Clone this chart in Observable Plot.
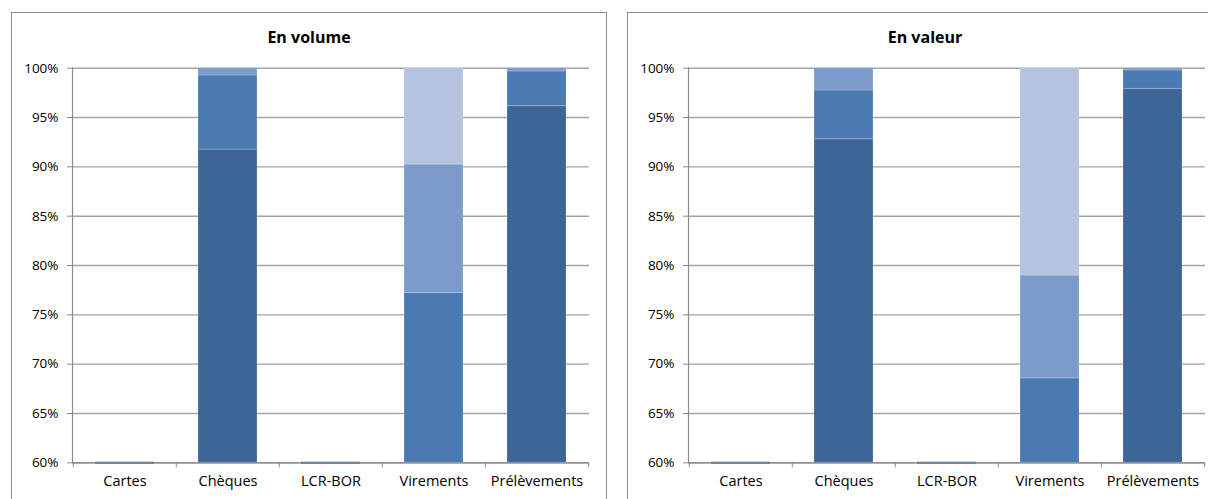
<!DOCTYPE html>
<html lang="fr">
<head>
<meta charset="utf-8">
<script src="https://cdn.jsdelivr.net/npm/d3@7"></script>
<script src="https://cdn.jsdelivr.net/npm/@observablehq/plot@0.6"></script>
<style>
  html, body { margin: 0; padding: 0; background: #fff; width: 1208px; height: 499px; overflow: hidden; }
  .panel { position: absolute; top: 12px; width: 594px; height: 520px; border: 1px solid #8e8e8e; background: #fff; }
  .panel h2 { position: absolute; left: 0; right: 0; top: 13px; margin: 0; text-align: center;
              font: bold 16px/22px "Open Sans", sans-serif; color: #000; }
  .panel .chart { position: absolute; left: 0; top: 37px; }
</style>
</head>
<body>
<div class="panel" id="volume" style="left:11px"><h2>En volume</h2><div class="chart"></div></div>
<div class="panel" id="valeur" style="left:627px"><h2>En valeur</h2><div class="chart"></div></div>
<script>
// Payment instruments on the x axis
const categories = ["Cartes", "Chèques", "LCR-BOR", "Virements", "Prélèvements"];

// Stacked shares (0–1) for the four series, one array per series, per category
const seriesNames = ["Série 1", "Série 2", "Série 3", "Série 4"];
const seriesColors = ["#3d6596", "#4a7ab2", "#7b9cca", "#b5c3de"];

const volume1 = [0, 0.9175, 0, 0,      0.9615];
const volume2 = [0, 0.0751, 0, 0.7722, 0.0352];
const volume3 = [0, 0.0074, 0, 0.1301, 0.0033];
const volume4 = [0, 0,      0, 0.0977, 0];

const valeur1 = [0, 0.9280, 0, 0,      0.9791];
const valeur2 = [0, 0.0494, 0, 0.6856, 0.0186];
const valeur3 = [0, 0.0226, 0, 0.1042, 0.0023];
const valeur4 = [0, 0,      0, 0.2102, 0];

// Y axis window (the axis starts at 60 %)
const yDomain = [0.6, 1];

function drawPanel(target, series) {
  const rows = [];
  series.forEach((vals, s) => {
    vals.forEach((v, i) => rows.push({category: categories[i], series: seriesNames[s], value: v}));
  });
  const totals = categories.map((c, i) => ({category: c, total: d3.sum(series, vals => vals[i])}));

  const width = 594, height = 449;
  const marginLeft = 60, marginRight = 17, marginTop = 17.7, marginBottom = 36.7;
  const step = (width - marginLeft - marginRight) / categories.length;

  const chart = Plot.plot({
    width, height, marginLeft, marginRight, marginTop, marginBottom,
    style: {fontFamily: "'Open Sans', sans-serif", fontSize: "13.5px", color: "#000", background: "transparent"},
    x: {domain: categories, paddingInner: 0.43, paddingOuter: 0.215, label: null},
    y: {domain: yDomain, clamp: true, label: null},
    color: {domain: seriesNames, range: seriesColors},
    marks: [
      Plot.gridY({ticks: 8, stroke: "#a3a3a3", strokeOpacity: 1, strokeWidth: 1.4}),
      Plot.barY(rows, Plot.stackY({order: null}, {
        x: "category", y: "value", fill: "series",
        stroke: "#ffffff", strokeOpacity: 0.2, strokeWidth: 1
      })),
      // empty columns sit on the baseline as a thin dark bar
      Plot.tickY(totals.filter(d => d.total === 0), {
        x: "category", y: "total", stroke: seriesColors[0], strokeWidth: 2
      }),
      Plot.ruleY([yDomain[0]], {stroke: "#8a8a8a", strokeWidth: 1.2}),
      Plot.frame({anchor: "left", stroke: "#8a8a8a", strokeWidth: 1.2}),
      // category separator ticks under the axis
      Plot.ruleX(categories, {x: d => d, y1: yDomain[0], y2: yDomain[0], dx: -step / 2, insetBottom: -5, stroke: "#8a8a8a"}),
      Plot.ruleX(categories.slice(-1), {x: d => d, y1: yDomain[0], y2: yDomain[0], dx: step / 2, insetBottom: -5, stroke: "#8a8a8a"}),
      Plot.axisY({ticks: 8, tickFormat: d3.format(".0%"), tickSize: 5, tickPadding: 9, stroke: "#8a8a8a", fill: "#000"}),
      Plot.axisX({tickSize: 0, tickPadding: 13, fill: "#000", fontSize: 14.5})
    ]
  });
  document.querySelector(`#${target} .chart`).append(chart);
}

drawPanel("volume", [volume1, volume2, volume3, volume4]);
drawPanel("valeur", [valeur1, valeur2, valeur3, valeur4]);
</script>
</body>
</html>
